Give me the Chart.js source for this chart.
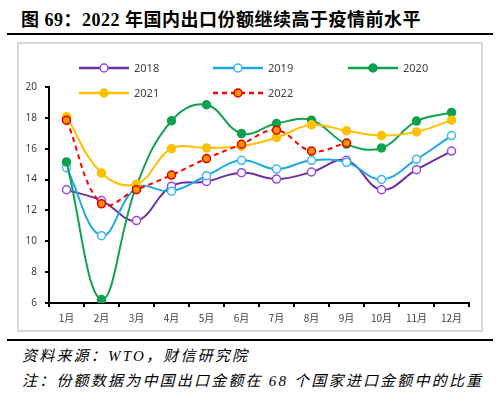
<!DOCTYPE html>
<html><head><meta charset="utf-8">
<script src="https://cdn.jsdelivr.net/npm/chart.js@4.4.0/dist/chart.umd.min.js"></script>
<style>
html,body{margin:0;padding:0;background:#fff}
body{width:500px;height:404px;position:relative;overflow:hidden;font-family:"Noto Sans CJK SC",sans-serif;color:#000}
#title{position:absolute;left:21px;top:8px;font-family:"Liberation Serif","Noto Sans CJK SC",serif;font-weight:bold;font-size:18px;line-height:24px;white-space:nowrap;letter-spacing:0.5px}
.rule{position:absolute;left:7px;width:486px;height:2px;background:#000}
#box{position:absolute;left:17px;top:42px;width:462px;height:286px;border:2px solid #d9d9d9}
.note{position:absolute;left:22px;font-style:italic;font-size:15px;line-height:20px;white-space:nowrap;letter-spacing:2.2px;font-family:"Liberation Serif","Noto Sans CJK SC",serif}
#cv{position:absolute;left:0;top:0}
</style></head>
<body>
<div id="title">图 69：2022 年国内出口份额继续高于疫情前水平</div>
<div class="rule" style="top:33px"></div>
<div id="box"></div>
<div class="rule" style="top:339px"></div>
<div class="note" style="top:346px">资料来源：WTO，财信研究院</div>
<div class="note" style="top:371px">注：份额数据为中国出口金额在 68 个国家进口金额中的比重</div>
<canvas id="cv" width="500" height="404"></canvas>
<script>
const categories = ['1月','2月','3月','4月','5月','6月','7月','8月','9月','10月','11月','12月'];
const yTicks = [6, 8, 10, 12, 14, 16, 18, 20];
const s2018 = [13.34, 12.64, 11.34, 13.57, 13.88, 14.45, 14.03, 14.49, 15.25, 13.34, 14.64, 15.85];
const s2019 = [14.77, 10.36, 13.47, 13.25, 14.25, 15.25, 14.68, 15.25, 15.12, 14.01, 15.31, 16.85];
const s2020 = [15.14, 6.22, 13.6, 17.81, 18.85, 16.98, 17.63, 17.85, 16.3, 16.05, 17.79, 18.35];
const s2021 = [18.07, 14.42, 13.7, 16.0, 16.05, 16.16, 16.72, 17.55, 17.16, 16.85, 17.09, 17.85];
const s2022 = [17.85, 12.43, 13.34, 14.29, 15.36, 16.29, 17.2, 15.85, 16.37];

const ds = (label, data, line, ptBg, ptBorder, order, dash) => ({
  label, data, order,
  borderColor: line, borderWidth: 2, borderDash: dash || [],
  pointBackgroundColor: ptBg, pointBorderColor: ptBorder,
  pointRadius: 4, pointBorderWidth: 1.5, pointHoverRadius: 4,
  tension: 0.4, fill: false
});

const datasets = [
  ds('2018', s2018, '#7030A0', '#ffffff', '#9C47E6', 4),
  ds('2019', s2019, '#1DA9E4', '#ffffff', '#3BB8EE', 3),
  ds('2020', s2020, '#10A150', '#10A150', '#10A150', 2),
  ds('2021', s2021, '#FFC000', '#FFC000', '#FFC000', 1),
  ds('2022', s2022, '#FF0000', '#FF9000', '#E00000', 0, [5, 4])
];

const legendPos = [
  {x: 79, y: 68}, {x: 213, y: 68}, {x: 348, y: 68},
  {x: 79, y: 93}, {x: 213, y: 93}
];

const legendPlugin = {
  id: 'customLegend',
  afterDraw(chart) {
    const ctx = chart.ctx;
    chart.data.datasets.forEach((d, i) => {
      const p = legendPos[i];
      ctx.save();
      ctx.strokeStyle = d.borderColor;
      ctx.lineWidth = 2.5;
      ctx.setLineDash(d.borderDash || []);
      ctx.beginPath();
      ctx.moveTo(p.x, p.y);
      ctx.lineTo(p.x + 50, p.y);
      ctx.stroke();
      ctx.setLineDash([]);
      ctx.beginPath();
      ctx.arc(p.x + 25, p.y, 4, 0, Math.PI * 2);
      ctx.fillStyle = d.pointBackgroundColor;
      ctx.fill();
      ctx.lineWidth = 1.5;
      ctx.strokeStyle = d.pointBorderColor;
      ctx.stroke();
      ctx.fillStyle = '#404040';
      ctx.font = '11px "Noto Sans", sans-serif';
      ctx.textBaseline = 'middle';
      ctx.textAlign = 'left';
      ctx.fillText(d.label, p.x + 55, p.y + 0.5);
      ctx.restore();
    });
  }
};

new Chart(document.getElementById('cv'), {
  type: 'line',
  data: { labels: categories, datasets },
  options: {
    responsive: false,
    animation: false,
    devicePixelRatio: 1,
    layout: { padding: { left: 0, top: 87, right: 31, bottom: 71 } },
    plugins: { legend: { display: false }, tooltip: { enabled: false } },
    scales: {
      x: {
        offset: true,
        grid: { offset: true, drawOnChartArea: false, drawTicks: true, tickLength: 4, color: '#000', lineWidth: 2 },
        border: { display: true, color: '#000', width: 2 },
        ticks: { color: '#404040', font: { size: 10, family: '"Noto Sans CJK SC", "Noto Sans", sans-serif' }, padding: 5, maxRotation: 0, autoSkip: false },
        afterFit(s) { s.height = 30; }
      },
      y: {
        min: yTicks[0], max: yTicks[yTicks.length - 1],
        afterBuildTicks(s) { s.ticks = yTicks.map(v => ({ value: v })); },
        grid: { drawOnChartArea: false, drawTicks: true, tickLength: 4, color: '#000', lineWidth: 2 },
        border: { display: true, color: '#000', width: 2 },
        ticks: { color: '#404040', font: { size: 10, family: '"Noto Sans", sans-serif' }, padding: 8 },
        afterFit(s) { s.width = 49; }
      }
    }
  },
  plugins: [legendPlugin]
});
</script>
</body></html>
